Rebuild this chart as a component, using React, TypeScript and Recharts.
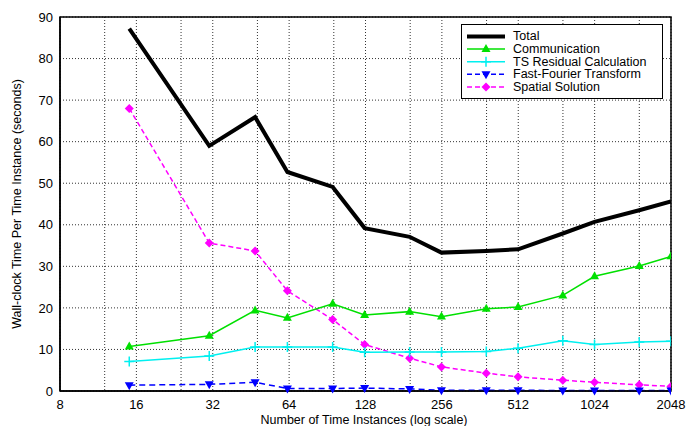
import React from "react";
import {
  LineChart,
  Line,
  XAxis,
  YAxis,
  CartesianGrid,
  ReferenceArea,
  Legend,
} from "recharts";

// Time instances are odd counts (2N+1), plotted on a log2 axis
const instances = [15, 31, 47, 63, 95, 127, 191, 255, 383, 511, 767, 1023, 1535, 2047];
const total = [87.2, 59.0, 65.9, 52.7, 49.1, 39.2, 37.1, 33.3, 33.7, 34.1, 37.9, 40.7, 43.5, 45.6];
const communication = [10.7, 13.3, 19.4, 17.6, 21.0, 18.3, 19.1, 17.9, 19.8, 20.2, 23.0, 27.6, 30.1, 32.4];
const tsResidual = [7.1, 8.4, 10.6, 10.6, 10.6, 9.3, 9.4, 9.4, 9.5, 10.3, 12.1, 11.2, 11.8, 12.0];
const fft = [1.4, 1.6, 2.1, 0.6, 0.6, 0.7, 0.5, 0.2, 0.2, 0.2, 0.1, 0.1, 0.1, 0.1];
const spatial = [68.0, 35.6, 33.7, 24.1, 17.2, 11.2, 7.9, 5.8, 4.3, 3.4, 2.6, 2.1, 1.5, 1.1];

// grid lines at every power of two and the 1.5x values between them
const xGrid = [8, 12, 16, 24, 32, 48, 64, 96, 128, 192, 256, 384, 512, 768, 1024, 1536, 2048];
const xLabels = [8, 16, 32, 64, 128, 256, 512, 1024, 2048];
const yTicks = [0, 10, 20, 30, 40, 50, 60, 70, 80, 90];

const data = instances.map((n, i) => ({
  n,
  total: total[i],
  communication: communication[i],
  tsResidual: tsResidual[i],
  fft: fft[i],
  spatial: spatial[i],
}));

const FONT = "'Liberation Sans', Arial, Helvetica, sans-serif";
const GREEN = "#00e000";
const CYAN = "#00f0f0";
const BLUE = "#0000ff";
const MAGENTA = "#ff00ff";

type Shape = (cx: number, cy: number, key?: React.Key) => React.ReactElement;

const triUp = (color: string): Shape => (cx, cy, key) => (
  <path key={key} d={`M${cx},${cy - 5} L${cx + 4.5},${cy + 3} L${cx - 4.5},${cy + 3} Z`} fill={color} />
);
const triDown = (color: string): Shape => (cx, cy, key) => (
  <path key={key} d={`M${cx},${cy + 5} L${cx + 4.5},${cy - 3} L${cx - 4.5},${cy - 3} Z`} fill={color} />
);
const plus = (color: string): Shape => (cx, cy, key) => (
  <path key={key} d={`M${cx - 5},${cy} H${cx + 5} M${cx},${cy - 5} V${cy + 5}`} stroke={color} strokeWidth={1.5} fill="none" />
);
const diamond = (color: string): Shape => (cx, cy, key) => (
  <path key={key} d={`M${cx},${cy - 4.5} L${cx + 4.5},${cy} L${cx},${cy + 4.5} L${cx - 4.5},${cy} Z`} fill={color} />
);

const asDot = (shape: Shape) => (props: any) => {
  const { cx, cy, index } = props;
  if (cx == null || cy == null) return <g key={index} />;
  return shape(cx, cy, index);
};

const legendRows = [
  { name: "Total", color: "#000", width: 4, dash: undefined, shape: null as Shape | null },
  { name: "Communication", color: GREEN, width: 1.5, dash: undefined, shape: triUp(GREEN) },
  { name: "TS Residual Calculation", color: CYAN, width: 1.5, dash: undefined, shape: plus(CYAN) },
  { name: "Fast-Fourier Transform", color: BLUE, width: 1.5, dash: "5 3", shape: triDown(BLUE) },
  { name: "Spatial Solution", color: MAGENTA, width: 1.5, dash: "5 3", shape: diamond(MAGENTA) },
];

function LegendBox() {
  return (
    <svg width={202} height={75} style={{ display: "block" }}>
      <rect x={0.5} y={0.5} width={201} height={74} fill="#fff" stroke="#000" strokeWidth={1} />
      {legendRows.map((r, i) => {
        const y = 12.4 + i * 12.65;
        return (
          <g key={r.name}>
            <line x1={6} x2={44} y1={y} y2={y} stroke={r.color} strokeWidth={r.width} strokeDasharray={r.dash} />
            {r.shape && r.shape(25, y)}
            <text x={52} y={y} dominantBaseline="central" fontSize={12.5} fontFamily={FONT} fill="#000">
              {r.name}
            </text>
          </g>
        );
      })}
    </svg>
  );
}

const tickStyle = { fill: "#000", fontSize: 13, fontFamily: FONT };

export default function App() {
  return (
    <div style={{ position: "absolute", left: 0, top: 0, background: "#fff" }}>
      <LineChart width={686} height={426} data={data} margin={{ top: 17, right: 15, bottom: 0, left: 0 }}>
        <CartesianGrid stroke="#333" strokeDasharray="1 2" strokeWidth={1} />
        <XAxis
          dataKey="n"
          type="number"
          scale="log"
          domain={[8, 2048]}
          ticks={xGrid}
          allowDataOverflow
          tickFormatter={(v: number) => (xLabels.includes(v) ? String(v) : "")}
          tick={tickStyle}
          tickLine={false}
          tickMargin={3}
          height={35}
          axisLine={{ stroke: "#000", strokeWidth: 1.5 }}
          label={{
            content: () => (
              <text x={364} y={424} textAnchor="middle" fontSize={12.5} fontFamily={FONT} fill="#000">
                Number of Time Instances (log scale)
              </text>
            ),
          }}
        />
        <YAxis
          type="number"
          domain={[0, 90]}
          ticks={yTicks}
          tick={tickStyle}
          tickLine={false}
          tickMargin={1}
          width={60}
          axisLine={{ stroke: "#000", strokeWidth: 1.5 }}
          label={{
            content: () => (
              <text
                x={17}
                y={204}
                transform="rotate(-90, 17, 204)"
                textAnchor="middle"
                dominantBaseline="central"
                fontSize={12.5}
                fontFamily={FONT}
                fill="#000"
              >
                Wall-clock Time Per Time Instance (seconds)
              </text>
            ),
          }}
        />
        <ReferenceArea x1={8} x2={2048} y1={0} y2={90} fill="none" stroke="#000" strokeWidth={1.5} ifOverflow="visible" />
        <Line dataKey="spatial" stroke={MAGENTA} strokeWidth={1.5} strokeDasharray="5 3" dot={asDot(diamond(MAGENTA))} isAnimationActive={false} />
        <Line dataKey="fft" stroke={BLUE} strokeWidth={1.5} strokeDasharray="6 4" dot={asDot(triDown(BLUE))} isAnimationActive={false} />
        <Line dataKey="tsResidual" stroke={CYAN} strokeWidth={1.5} dot={asDot(plus(CYAN))} isAnimationActive={false} />
        <Line dataKey="communication" stroke={GREEN} strokeWidth={1.5} dot={asDot(triUp(GREEN))} isAnimationActive={false} />
        <Line dataKey="total" stroke="#000" strokeWidth={4} dot={false} isAnimationActive={false} />
        <Legend
          layout="vertical"
          align="center"
          verticalAlign="middle"
          wrapperStyle={{ left: 461, top: 24, width: 202 }}
          content={() => <LegendBox />}
        />
      </LineChart>
    </div>
  );
}
